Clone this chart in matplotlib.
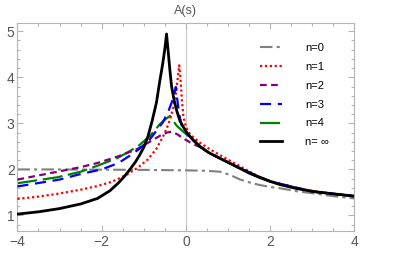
import matplotlib
matplotlib.use("Agg")
import matplotlib.pyplot as plt
from matplotlib.ticker import MultipleLocator

# ---------- DATA ----------
s_n0 = [-4.0, -3.0, -2.0, -1.0, 0.0, 0.5, 0.81, 1.05, 1.29, 1.5, 1.76, 2.0, 2.24, 2.6, 3.03, 3.5, 4.0]
A_n0 = [2.0, 2.0, 1.995, 1.99, 1.98, 1.97, 1.95, 1.88, 1.78, 1.72, 1.66, 1.62, 1.59, 1.53, 1.48, 1.42, 1.37]

s_n1 = [-4.0, -3.5, -3.05, -2.5, -2.1, -1.8, -1.62, -1.4, -1.14, -0.9, -0.7, -0.54, -0.46, -0.38, -0.3,
        -0.26, -0.21, -0.16, -0.13, -0.1, -0.06, 0.0, 0.1, 0.33, 0.6, 0.81, 1.12, 1.4, 1.76, 2.0, 2.24,
        2.6, 3.03, 3.5, 4.0]
A_n1 = [1.36, 1.41, 1.47, 1.56, 1.64, 1.72, 1.79, 1.89, 2.04, 2.22, 2.45, 2.72, 2.88, 3.08, 3.34,
        3.5, 3.85, 4.26, 4.0, 3.55, 3.15, 2.92, 2.76, 2.58, 2.42, 2.31, 2.15, 2.01, 1.83, 1.75, 1.68,
        1.6, 1.53, 1.47, 1.42]

s_n2 = [-4.0, -3.05, -2.5, -2.1, -1.62, -1.33, -1.14, -0.86, -0.6, -0.45, -0.34, -0.2, -0.14, 0.0,
        0.17, 0.33, 0.55, 0.81, 1.29, 2.0, 3.0, 4.0]
A_n2 = [1.78, 1.95, 2.05, 2.14, 2.28, 2.38, 2.45, 2.6, 2.74, 2.8, 2.82, 2.76, 2.72, 2.64,
        2.55, 2.49, 2.36, 2.24, 2.02, 1.74, 1.52, 1.42]

s_n3 = [-4.0, -3.0, -2.5, -2.0, -1.6, -1.33, -1.1, -0.86, -0.7, -0.55, -0.42, -0.3, -0.24,
        -0.21, -0.16, -0.1, -0.04, 0.05, 0.2, 0.33, 0.55, 0.81, 1.29, 2.0, 3.0, 4.0]
A_n3 = [1.63, 1.78, 1.9, 2.0, 2.14, 2.3, 2.45, 2.65, 2.84, 3.02, 3.25, 3.55, 3.79,
        3.55, 3.2, 2.95, 2.86, 2.75, 2.62, 2.5, 2.36, 2.24, 2.02, 1.74, 1.52, 1.42]

s_n4 = [-4.0, -3.05, -2.5, -2.1, -1.62, -1.33, -1.14, -0.86, -0.62, -0.5, -0.38, -0.3, -0.22,
        -0.1, 0.0, 0.15, 0.33, 0.55, 0.81, 1.29, 2.0, 3.0, 4.0]
A_n4 = [1.7, 1.83, 1.95, 2.08, 2.25, 2.4, 2.5, 2.72, 2.98, 3.08, 3.16, 3.05, 2.95,
        2.85, 2.77, 2.64, 2.5, 2.36, 2.24, 2.02, 1.74, 1.52, 1.42]

s_inf = [-4.0, -3.5, -3.0, -2.5, -2.1, -1.8, -1.6, -1.45, -1.33, -1.2, -1.1, -1.0, -0.9, -0.8, -0.7,
         -0.62, -0.55, -0.5, -0.46, -0.42, -0.38, -0.34, -0.28, -0.22, -0.14, -0.06, 0.02, 0.15, 0.33,
         0.55, 0.81, 1.05, 1.29, 1.5, 1.76, 2.0, 2.24, 2.6, 3.03, 3.5, 4.0]
A_inf = [1.03, 1.08, 1.15, 1.25, 1.37, 1.54, 1.71, 1.86, 2.0, 2.16, 2.31, 2.48, 2.72, 3.06, 3.45,
         3.92, 4.3, 4.62, 4.94, 4.55, 4.15, 3.8, 3.5, 3.28, 3.05, 2.92, 2.8, 2.66, 2.5,
         2.36, 2.24, 2.13, 2.02, 1.92, 1.82, 1.74, 1.67, 1.59, 1.52, 1.47, 1.42]

labels = ["n=0", "n=1", "n=2", "n=3", "n=4", "n= \u221e"]

# ---------- STYLE ----------
FRAME = "#b4b4b4"
TXT = "#555555"
plt.rcParams["font.family"] = ["Liberation Sans", "DejaVu Sans"]

fig = plt.figure(figsize=(4.15, 2.6), dpi=100)
ax = fig.add_axes([0.042, 0.1127, 0.812, 0.7973])

ax.axvline(0, color="#c8c8c8", lw=0.8, zorder=1)

ax.plot(s_n0, A_n0, color="#808080", lw=1.5, dashes=(6, 2, 1.5, 2), label=labels[0], zorder=2)
ax.plot(s_n1, A_n1, color="#ff0000", lw=1.6, dashes=(1, 1.2), label=labels[1], zorder=3)
ax.plot(s_n2, A_n2, color="#800080", lw=1.6, dashes=(3, 2), label=labels[2], zorder=3)
ax.plot(s_n3, A_n3, color="#0000ff", lw=1.6, dashes=(5, 3), label=labels[3], zorder=3)
ax.plot(s_n4, A_n4, color="#008000", lw=1.6, dashes=(9, 2.5), label=labels[4], zorder=2.5)
ax.plot(s_inf, A_inf, color="black", lw=2.0, label=labels[5], zorder=4)

ax.set_xlim(-4, 4)
ax.set_ylim(0.67, 5.17)
ax.xaxis.set_major_locator(MultipleLocator(2))
ax.xaxis.set_minor_locator(MultipleLocator(0.5))
ax.yaxis.set_major_locator(MultipleLocator(1))
ax.yaxis.set_minor_locator(MultipleLocator(0.2))
ax.tick_params(which="both", direction="in", top=True, right=True, color=FRAME,
               labelcolor=TXT, labelsize=10, width=0.8)
ax.tick_params(which="major", length=4)
ax.tick_params(which="minor", length=2.5)
ax.tick_params(axis="x", pad=3)
ax.tick_params(axis="y", pad=2)
ax.xaxis.set_major_formatter(plt.FuncFormatter(lambda v, _: f"{v:.0f}".replace("-", "\u2212")))
for sp in ax.spines.values():
    sp.set_color(FRAME)
    sp.set_linewidth(0.8)

ax.text(0, 1.03, "A(s)", transform=ax.get_xaxis_transform(), ha="center", va="bottom",
        fontsize=9, color=TXT)

ax.legend(loc="upper left", bbox_to_anchor=(0.6265, 0.835), bbox_transform=fig.transFigure,
          frameon=False, fontsize=8, borderpad=0, borderaxespad=0, labelspacing=0.8,
          handlelength=1.95, handletextpad=2.1)

fig.savefig("out.png", dpi=100)
